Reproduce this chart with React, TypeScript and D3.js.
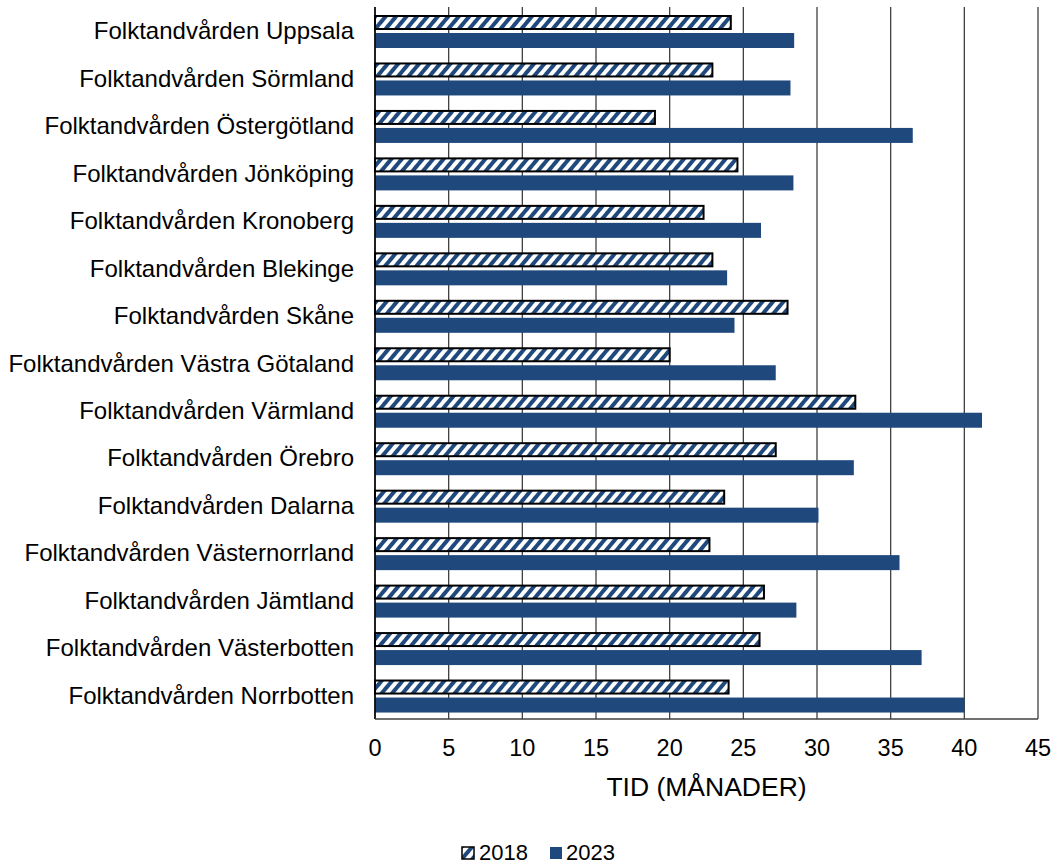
import React from "react";
import * as d3 from "d3";

const categories = [
  "Folktandvården Uppsala",
  "Folktandvården Sörmland",
  "Folktandvården Östergötland",
  "Folktandvården Jönköping",
  "Folktandvården Kronoberg",
  "Folktandvården Blekinge",
  "Folktandvården Skåne",
  "Folktandvården Västra Götaland",
  "Folktandvården Värmland",
  "Folktandvården Örebro",
  "Folktandvården Dalarna",
  "Folktandvården Västernorrland",
  "Folktandvården Jämtland",
  "Folktandvården Västerbotten",
  "Folktandvården Norrbotten",
];
const values2018 = [24.15, 22.9, 19.0, 24.6, 22.3, 22.9, 28.0, 20.0, 32.6, 27.2, 23.7, 22.7, 26.4, 26.1, 24.0];
const values2023 = [28.45, 28.2, 36.5, 28.4, 26.2, 23.9, 24.4, 27.2, 41.2, 32.5, 30.1, 35.6, 28.6, 37.1, 40.0];
const xTicks = [0, 5, 10, 15, 20, 25, 30, 35, 40, 45];
const axisTitle = "TID (MÅNADER)";
const legendLabels = ["2018", "2023"];

const W = 1053;
const H = 865;
const BLUE = "#1f497d";
const FONT = "'Liberation Sans', Arial, sans-serif";

export default function App() {
  const x = d3.scaleLinear().domain([0, 45]).range([375, 1038]);
  const y = d3.scaleBand<string>().domain(categories).range([7, 719]);
  const bw = y.bandwidth();
  const barH = 15;

  return (
    <svg width={W} height={H} style={{ display: "block", position: "absolute", left: 0, top: 0 }}>
      <defs>
        <pattern id="hatch" patternUnits="userSpaceOnUse" width="8" height="8" patternTransform="rotate(40)">
          <rect x="0" y="0" width="8" height="8" fill="#ffffff" />
          <rect x="0" y="0" width="4" height="8" fill={BLUE} />
        </pattern>
      </defs>
      <rect x={0} y={0} width={W} height={H} fill="#fff" />
      {xTicks.map((t) => (
        <line key={"g" + t} x1={x(t)} x2={x(t)} y1={7} y2={719} stroke="#404040" strokeWidth={1.3} />
      ))}
      {categories.map((c, i) => {
        const y0 = y(c)!;
        return (
          <g key={c}>
            <rect
              x={x(0)}
              y={y0 + 9}
              width={x(values2018[i]) - x(0)}
              height={barH - 2}
              fill="url(#hatch)"
              stroke="#000"
              strokeWidth={2}
            />
            <rect x={x(0)} y={y0 + 26} width={x(values2023[i]) - x(0)} height={barH} fill={BLUE} />
          </g>
        );
      })}
      <line x1={x(0)} x2={x(0)} y1={7} y2={719} stroke="#000" strokeWidth={1.5} />
      <line x1={x(0)} x2={x(45)} y1={719} y2={719} stroke="#404040" strokeWidth={1.5} />
      {categories.map((c) => (
        <text
          key={"l" + c}
          x={354}
          y={y(c)! + bw / 2}
          textAnchor="end"
          dominantBaseline="central"
          fontFamily={FONT}
          fontSize={24}
          fill="#000"
        >
          {c}
        </text>
      ))}
      {xTicks.map((t) => (
        <text
          key={"t" + t}
          x={x(t)}
          y={748}
          textAnchor="middle"
          dominantBaseline="central"
          fontFamily={FONT}
          fontSize={23.5}
          fill="#000"
        >
          {t}
        </text>
      ))}
      <text
        x={(x(0) + x(45)) / 2}
        y={787}
        textAnchor="middle"
        dominantBaseline="central"
        fontFamily={FONT}
        fontSize={26.5}
        fill="#000"
      >
        {axisTitle}
      </text>
      <g fontFamily={FONT} fontSize={22} fill="#000">
        <rect x={462} y={847} width={12} height={12} fill="url(#hatch)" stroke="#000" strokeWidth={1.5} />
        <text x={479} y={852} dominantBaseline="central">{legendLabels[0]}</text>
        <rect x={550} y={847} width={12} height={12} fill={BLUE} />
        <text x={566} y={852} dominantBaseline="central">{legendLabels[1]}</text>
      </g>
    </svg>
  );
}
